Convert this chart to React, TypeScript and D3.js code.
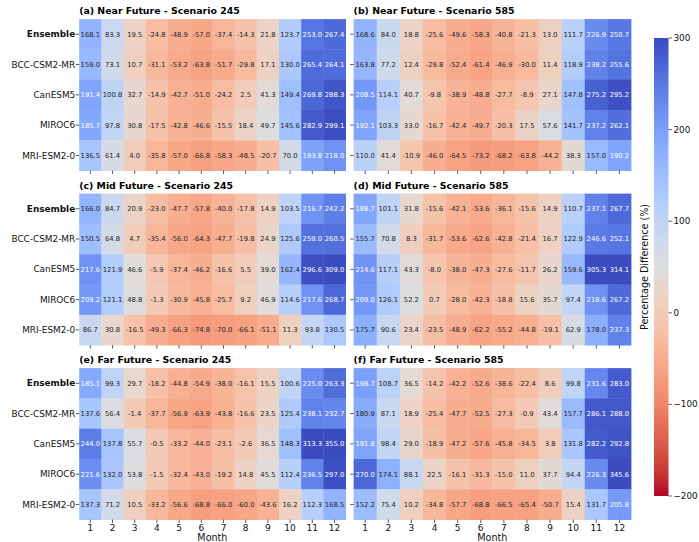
import React from 'react';
import * as d3 from 'd3';

// month labels and model names
const months = ['1', '2', '3', '4', '5', '6', '7', '8', '9', '10', '11', '12'];
const models = ['Ensemble', 'BCC-CSM2-MR', 'CanESM5', 'MIROC6', 'MRI-ESM2-0'];

const titles = [
  '(a) Near Future - Scenario 245',
  '(b) Near Future - Scenario 585',
  '(c) Mid Future - Scenario 245',
  '(d) Mid Future - Scenario 585',
  '(e) Far Future - Scenario 245',
  '(f) Far Future - Scenario 585',
];

const nearSsp245 = [
  [168.1, 83.3, 19.5, -24.8, -48.9, -57.0, -37.4, -14.3, 21.8, 123.7, 253.0, 267.4],
  [159.0, 73.1, 10.7, -31.1, -53.2, -63.8, -51.7, -29.8, 17.1, 130.0, 265.4, 264.1],
  [191.4, 100.8, 32.7, -14.9, -42.7, -51.0, -24.2, 2.5, 41.3, 149.4, 269.8, 288.3],
  [185.7, 97.8, 30.8, -17.5, -42.8, -46.6, -15.5, 18.4, 49.7, 145.6, 282.9, 299.1],
  [136.5, 61.4, 4.0, -35.8, -57.0, -66.8, -58.3, -48.5, -20.7, 70.0, 193.8, 218.0],
];
const nearSsp585 = [
  [168.6, 84.0, 18.8, -25.6, -49.6, -58.3, -40.8, -21.3, 13.0, 111.7, 226.9, 250.7],
  [163.8, 77.2, 12.4, -29.8, -52.4, -61.4, -46.9, -30.0, 11.4, 118.9, 238.2, 255.6],
  [208.5, 114.1, 40.7, -9.8, -38.9, -48.8, -27.7, -8.9, 27.1, 147.8, 275.2, 295.2],
  [192.1, 103.3, 33.0, -16.7, -42.4, -49.7, -20.3, 17.5, 57.6, 141.7, 237.2, 262.1],
  [110.0, 41.4, -10.9, -46.0, -64.5, -73.2, -68.2, -63.8, -44.2, 38.3, 157.0, 190.2],
];
const midSsp245 = [
  [166.0, 84.7, 20.9, -23.0, -47.7, -57.8, -40.0, -17.8, 14.9, 103.5, 216.7, 242.2],
  [150.5, 64.8, 4.7, -35.4, -56.0, -64.3, -47.7, -19.8, 24.9, 125.6, 259.0, 260.5],
  [217.6, 121.9, 46.6, -5.9, -37.4, -46.2, -16.6, 5.5, 39.0, 162.4, 296.6, 309.0],
  [209.2, 121.1, 48.8, -1.3, -30.9, -45.8, -25.7, 9.2, 46.9, 114.6, 217.6, 268.7],
  [86.7, 30.8, -16.5, -49.3, -66.3, -74.8, -70.0, -66.1, -51.1, 11.3, 93.8, 130.5],
];
const midSsp585 = [
  [188.7, 101.1, 31.8, -15.6, -42.1, -53.6, -36.1, -15.6, 14.9, 110.7, 237.1, 267.7],
  [155.7, 70.8, 8.3, -31.7, -53.6, -62.6, -42.8, -21.4, 16.7, 122.9, 246.6, 252.1],
  [214.6, 117.1, 43.3, -8.0, -38.0, -47.3, -27.6, -11.7, 26.2, 159.6, 305.3, 314.1],
  [209.0, 126.1, 52.2, 0.7, -28.0, -42.3, -18.8, 15.6, 35.7, 97.4, 218.6, 267.2],
  [175.7, 90.6, 23.4, -23.5, -48.9, -62.2, -55.2, -44.8, -19.1, 62.9, 178.0, 237.3],
];
const farSsp245 = [
  [185.1, 99.3, 29.7, -18.2, -44.8, -54.9, -38.0, -16.1, 15.5, 100.6, 225.0, 263.3],
  [137.6, 56.4, -1.4, -37.7, -56.9, -63.9, -43.8, -16.6, 23.5, 125.4, 238.1, 232.7],
  [244.0, 137.8, 55.7, -0.5, -33.2, -44.0, -23.1, -2.6, 36.5, 148.3, 313.3, 355.0],
  [221.6, 132.0, 53.8, -1.5, -32.4, -43.0, -19.2, 14.8, 45.5, 112.4, 236.5, 297.0],
  [137.3, 71.2, 10.5, -33.2, -56.6, -68.8, -66.0, -60.0, -43.6, 16.2, 112.3, 168.5],
];
const farSsp585 = [
  [198.7, 108.7, 36.5, -14.2, -42.2, -52.6, -38.6, -22.4, 8.6, 99.8, 231.6, 283.0],
  [180.9, 87.1, 18.9, -25.4, -47.7, -52.5, -27.3, -0.9, 43.4, 157.7, 286.1, 288.0],
  [191.8, 98.4, 29.0, -18.9, -47.2, -57.6, -45.8, -34.5, 3.8, 131.8, 282.2, 292.8],
  [270.0, 174.1, 88.1, 22.5, -16.1, -31.3, -15.0, 11.0, 37.7, 94.4, 226.3, 345.6],
  [152.2, 75.4, 10.2, -34.8, -57.7, -68.8, -66.5, -65.4, -50.7, 15.4, 131.7, 205.8],
];

const panels = [nearSsp245, nearSsp585, midSsp245, midSsp585, farSsp245, farSsp585];
const cbarTicks = [300, 200, 100, 0, -100, -200];

// coolwarm (Moreland), sampled at 33 points
const coolwarm = [
  [59, 76, 192], [68, 90, 204], [77, 104, 215], [87, 117, 225], [98, 130, 234],
  [108, 142, 241], [119, 154, 247], [130, 165, 251], [141, 176, 254], [152, 185, 255],
  [163, 194, 255], [174, 201, 253], [184, 208, 249], [194, 213, 244], [204, 217, 238],
  [213, 219, 230], [221, 221, 221], [229, 216, 209], [236, 211, 197], [241, 204, 185],
  [245, 196, 173], [247, 187, 160], [247, 177, 148], [247, 166, 135], [244, 154, 123],
  [241, 141, 111], [236, 127, 99], [229, 112, 88], [222, 96, 77], [213, 80, 66],
  [203, 62, 56], [192, 40, 47], [180, 4, 38],
].map(c => d3.rgb(c[0], c[1], c[2]).formatHex());

const cw = d3.piecewise(d3.interpolateRgb, coolwarm);
const vmin = -200, vmax = 300;
// reversed map: high values blue
const colorOf = (v: number) => cw(Math.min(1, Math.max(0, (vmax - v) / (vmax - vmin))));

function textColor(fill: string) {
  const c = d3.rgb(fill);
  const lin = (u: number) => {
    u = u / 255;
    return u <= 0.03928 ? u / 12.92 : Math.pow((u + 0.055) / 1.055, 2.4);
  };
  const lum = 0.2126 * lin(c.r) + 0.7152 * lin(c.g) + 0.0722 * lin(c.b);
  return lum > 0.408 ? '#262626' : '#ffffff';
}

const W = 699, H = 542;
const colX = [{ x: 79.2, w: 266.4 }, { x: 353.6, w: 277.4 }];
const rowY = [19.1, 193.6, 368.1];
const panelH = 151.5;
const font = 'DejaVu Sans';

function Heatmap({ data, title, x0, w, y0, showY, showX }) {
  const xs = d3.scaleBand().domain(months).range([x0, x0 + w]);
  const ys = d3.scaleBand().domain(models).range([y0, y0 + panelH]);
  return (
    <g>
      <text x={x0} y={y0 - 5} fontFamily={font} fontWeight="bold" fontSize={9.4} fill="#000">{title}</text>
      {data.map((row, i) => row.map((v, j) => {
        const fill = colorOf(v);
        return (
          <g key={`${i}-${j}`}>
            <rect x={xs(months[j])} y={ys(models[i])} width={xs.bandwidth() + 0.4} height={ys.bandwidth() + 0.4} fill={fill} />
            <text x={xs(months[j]) + xs.bandwidth() / 2} y={ys(models[i]) + ys.bandwidth() / 2}
              dy="0.35em" textAnchor="middle" fontFamily={font} fontSize={6.8} fill={textColor(fill)}>
              {v.toFixed(1)}
            </text>
          </g>
        );
      }))}
      {models.map(m => (
        <g key={m}>
          <line x1={x0 - 3.4} x2={x0} y1={ys(m) + ys.bandwidth() / 2} y2={ys(m) + ys.bandwidth() / 2} stroke="#333" strokeWidth={0.8} />
          {showY && (
            <text x={x0 - 4} y={ys(m) + ys.bandwidth() / 2} dy="0.35em" textAnchor="end"
              fontFamily={font} fontSize={8.9} fontWeight={m === 'Ensemble' ? 'bold' : 'normal'} fill="#111">{m}</text>
          )}
        </g>
      ))}
      {months.map(mo => (
        <g key={mo}>
          <line x1={xs(mo) + xs.bandwidth() / 2} x2={xs(mo) + xs.bandwidth() / 2} y1={y0 + panelH} y2={y0 + panelH + 3.4} stroke="#333" strokeWidth={0.8} />
          {showX && (
            <text x={xs(mo) + xs.bandwidth() / 2} y={y0 + panelH + 11.2} textAnchor="middle" fontFamily={font} fontSize={9} fill="#111">{mo}</text>
          )}
        </g>
      ))}
      {showX && (
        <text x={x0 + w / 2} y={y0 + panelH + 21.5} textAnchor="middle" fontFamily={font} fontSize={9.6} fill="#111">Month</text>
      )}
    </g>
  );
}

export default function App() {
  const cbX = 654, cbW = 14.5, cbTop = 38, cbBot = 496;
  const cbScale = d3.scaleLinear().domain([vmin, vmax]).range([cbBot, cbTop]);
  const gradStops = d3.range(0, 1.0001, 1 / 32);
  return (
    <svg width={W} height={H} style={{ display: 'block', position: 'absolute', left: 0, top: 0, background: '#fff' }}>
      <defs>
        <linearGradient id="cbar" x1="0" y1="0" x2="0" y2="1">
          {gradStops.map((t, i) => <stop key={i} offset={t} stopColor={cw(t)} />)}
        </linearGradient>
      </defs>
      <rect width={W} height={H} fill="#fff" />
      {panels.map((data, k) => {
        const c = k % 2, r = Math.floor(k / 2);
        return (
          <Heatmap key={k} data={data} title={titles[k]} x0={colX[c].x} w={colX[c].w} y0={rowY[r]}
            showY={c === 0} showX={r === 2} />
        );
      })}
      <rect x={cbX} y={cbTop} width={cbW} height={cbBot - cbTop} fill="url(#cbar)" />
      {cbarTicks.map(t => (
        <g key={t}>
          <line x1={cbX + cbW} x2={cbX + cbW + 3.4} y1={cbScale(t)} y2={cbScale(t)} stroke="#333" strokeWidth={0.8} />
          <text x={cbX + cbW + 5} y={cbScale(t)} dy="0.35em" fontFamily={font} fontSize={8.8} fill="#111">
            {t < 0 ? `\u2212${Math.abs(t)}` : `${t}`}
          </text>
        </g>
      ))}
      <text transform={`translate(${645},${(cbTop + cbBot) / 2}) rotate(-90)`} textAnchor="middle" dy="0.35em"
        fontFamily={font} fontSize={9.6} fill="#111">Percentage Difference (%)</text>
    </svg>
  );
}
